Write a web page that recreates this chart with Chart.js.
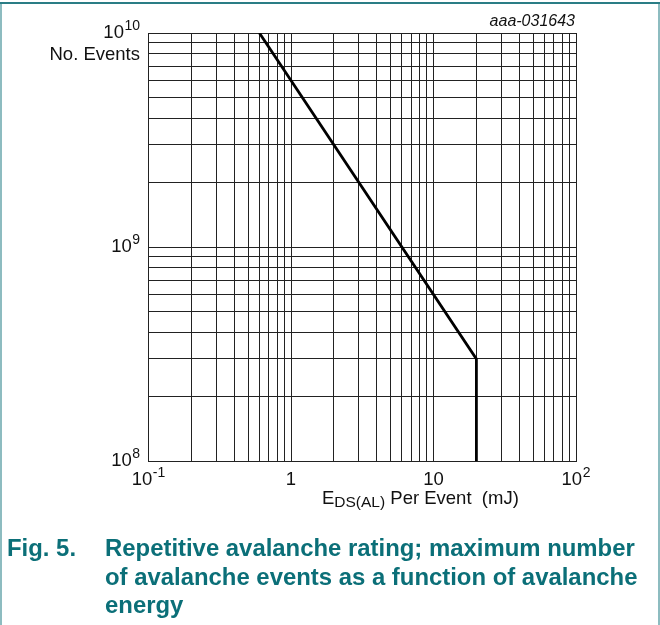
<!DOCTYPE html>
<html>
<head>
<meta charset="utf-8">
<script src="https://cdn.jsdelivr.net/npm/chart.js@4.4.0/dist/chart.umd.min.js"></script>
<style>
  html, body { margin: 0; padding: 0; background: #fff; }
  canvas { display: block; }
</style>
</head>
<body>
<canvas id="myChart" width="660" height="625"></canvas>
<script>
// curve: energy per event (mJ) vs max number of events
const energy = [0.6, 20, 20];
const events = [1e10, 3e8, 1e8];

// labelled decades
const xTickValues = [0.1, 1, 10, 100];
const xTickLabels = [['10', '-1'], ['1', ''], ['10', ''], ['10', '2']];
const yTickValues = [1e8, 1e9, 1e10];
const yTickLabels = [['10', '8'], ['10', '9'], ['10', '10']];

// grid lines (1..9 per decade)
const xGridValues = [];
const yGridValues = [];
for (let d of [0.1, 1, 10]) {
    for (let m = 1; m < 10; m++) xGridValues.push(+(m * d).toPrecision(3));
}
xGridValues.push(100);
for (let d of [1e8, 1e9]) {
    for (let m = 1; m < 10; m++) yGridValues.push(m * d);
}
yGridValues.push(1e10);

const teal = '#0b6f78';
const FONT = '"Liberation Sans", Arial, sans-serif';

// draws "base" with a raised exponent, aligned by 'align' at x
function drawPower(ctx, base, exp, x, y, align) {
    ctx.font = '18.5px ' + FONT;
    const wb = ctx.measureText(base).width;
    ctx.font = '14px ' + FONT;
    const we = exp ? ctx.measureText(exp).width + 0.5 : 0;
    const total = wb + we;
    let left = x;
    if (align === 'center') left = x - total / 2;
    if (align === 'right') left = x - total;
    ctx.textAlign = 'left';
    ctx.textBaseline = 'middle';
    ctx.font = '18.5px ' + FONT;
    ctx.fillText(base, left, y);
    if (exp) {
        ctx.font = '14px ' + FONT;
        ctx.fillText(exp, left + wb + 0.5, y - 7);
    }
}

const labelsPlugin = {
    id: 'labels',
    afterDraw(chart) {
        const ctx = chart.ctx;
        const xs = chart.scales.x;
        const ys = chart.scales.y;
        ctx.save();
        ctx.fillStyle = '#111';

        xTickValues.forEach((v, i) => {
            drawPower(ctx, xTickLabels[i][0], xTickLabels[i][1], xs.getPixelForValue(v), 480, 'center');
        });
        yTickValues.forEach((v, i) => {
            drawPower(ctx, yTickLabels[i][0], yTickLabels[i][1], 140, ys.getPixelForValue(v), 'right');
        });

        // y title
        ctx.font = '18.5px ' + FONT;
        ctx.textAlign = 'right';
        ctx.textBaseline = 'middle';
        ctx.fillText('No. Events', 140, 55);

        // x title with subscript
        ctx.textAlign = 'left';
        ctx.textBaseline = 'alphabetic';
        let x = 322;
        ctx.font = '18.5px ' + FONT;
        ctx.fillText('E', x, 504);
        x += ctx.measureText('E').width;
        ctx.font = '15.5px ' + FONT;
        ctx.fillText('DS(AL)', x, 507);
        x += ctx.measureText('DS(AL)').width;
        ctx.font = '18.5px ' + FONT;
        ctx.fillText(' Per Event  (mJ)', x, 504);

        // figure code
        ctx.font = 'italic 16px ' + FONT;
        ctx.textAlign = 'right';
        ctx.textBaseline = 'middle';
        ctx.fillText('aaa-031643', 575, 22);

        // caption
        ctx.fillStyle = teal;
        ctx.font = 'bold 23.9px ' + FONT;
        ctx.textAlign = 'left';
        ctx.textBaseline = 'alphabetic';
        ctx.fillText('Fig. 5.', 7, 556);
        ctx.fillText('Repetitive avalanche rating; maximum number', 105, 556);
        ctx.fillText('of avalanche events as a function of avalanche', 105, 584.5);
        ctx.fillText('energy', 105, 613);

        // frame of the figure
        ctx.lineWidth = 2;
        ctx.strokeStyle = '#2a7d85';
        ctx.beginPath();
        ctx.moveTo(0, 3);
        ctx.lineTo(660, 3);
        ctx.stroke();
        ctx.strokeStyle = '#8dbcc0';
        ctx.beginPath();
        ctx.moveTo(1, 4);
        ctx.lineTo(1, 625);
        ctx.moveTo(659, 4);
        ctx.lineTo(659, 625);
        ctx.stroke();
        ctx.restore();
    }
};

const gridStyle = {
    color: '#222',
    lineWidth: 1,
    drawTicks: false
};

var ctx = document.getElementById('myChart').getContext('2d');

var myChart = new Chart(ctx, { //eslint-disable-line
    type: 'line',
    data: {
        datasets: [
            {
                data: energy.map((e, i) => ({ x: e, y: events[i] })),
                borderColor: '#000',
                borderWidth: 2.8,
                pointRadius: 0,
                fill: false,
                tension: 0
            }
        ]
    },
    options: {
        responsive: false,
        animation: false,
        devicePixelRatio: 1,
        layout: {
            padding: { left: 148.5, right: 84, top: 33, bottom: 164 }
        },
        plugins: {
            legend: { display: false },
            tooltip: { enabled: false }
        },
        scales: {
            x: {
                type: 'logarithmic',
                min: 0.1,
                max: 100,
                grid: gridStyle,
                border: { display: true, color: '#222', width: 1 },
                ticks: { display: false },
                afterBuildTicks: (scale) => {
                    scale.ticks = xGridValues.map(v => ({ value: v }));
                },
                afterFit: (scale) => { scale.height = 0; }
            },
            y: {
                type: 'logarithmic',
                min: 1e8,
                max: 1e10,
                grid: gridStyle,
                border: { display: true, color: '#222', width: 1 },
                ticks: { display: false },
                afterBuildTicks: (scale) => {
                    scale.ticks = yGridValues.map(v => ({ value: v }));
                },
                afterFit: (scale) => { scale.width = 0; }
            }
        }
    },
    plugins: [labelsPlugin]
});
</script>
</body>
</html>
